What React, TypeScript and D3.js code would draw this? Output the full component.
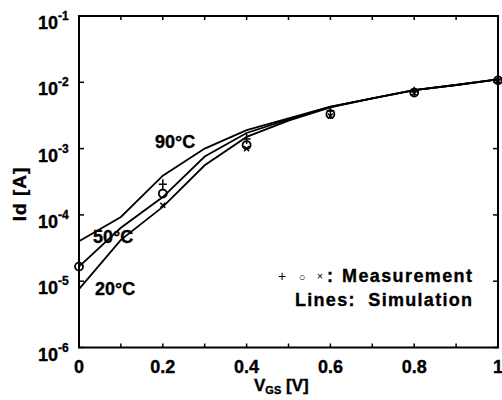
import React from "react";
import * as d3 from "d3";

const V_SIM = [0, 0.1, 0.2, 0.3, 0.4, 0.5, 0.6, 0.7, 0.8, 0.9, 1.0];
const SIM_90 = [4.0e-5, 9.3e-5, 3.9e-4, 1.0e-3, 1.9e-3, 2.85e-3, 4.3e-3, 5.7e-3, 7.6e-3, 9.1e-3, 1.11e-2];
const SIM_50 = [1.66e-5, 6.4e-5, 1.86e-4, 7.6e-4, 1.72e-3, 2.75e-3, 4.25e-3, 5.7e-3, 7.6e-3, 9.1e-3, 1.11e-2];
const SIM_20 = [7.6e-6, 4.2e-5, 1.32e-4, 5.6e-4, 1.5e-3, 2.65e-3, 4.2e-3, 5.7e-3, 7.6e-3, 9.1e-3, 1.11e-2];

const V_MEAS = [0, 0.2, 0.4, 0.6, 0.8, 1.0];
const MEAS_PLUS = [null, 2.9e-4, 1.4e-3, 3.7e-3, 7.2e-3, 1.08e-2];
const MEAS_CIRCLE = [1.66e-5, 2.1e-4, 1.13e-3, 3.3e-3, 7.0e-3, 1.07e-2];
const MEAS_CROSS = [null, 1.4e-4, 1.0e-3, 3.1e-3, 6.9e-3, 1.05e-2];

const X_TICKS = [0, 0.2, 0.4, 0.6, 0.8, 1];
const X_TICK_LABELS = ["0", "0.2", "0.4", "0.6", "0.8", "1"];
const X_MINOR = [0, 0.1, 0.2, 0.3, 0.4, 0.5, 0.6, 0.7, 0.8, 0.9, 1.0];
const Y_TICKS = [1e-6, 1e-5, 1e-4, 1e-3, 1e-2, 1e-1];
const Y_EXP = ["-6", "-5", "-4", "-3", "-2", "-1"];

const FONT = "'Liberation Sans', Arial, Helvetica, sans-serif";

export default function App() {
  const L = 79, R = 498, T = 16, B = 347.5;
  const x = d3.scaleLinear().domain([0, 1]).range([L, R]);
  const y = d3.scaleLog().domain([1e-6, 1e-1]).range([B, T]);
  const line = d3
    .line<[number, number]>()
    .x((d) => x(d[0]))
    .y((d) => y(d[1]))
    .curve(d3.curveLinear);
  const sims = [SIM_90, SIM_50, SIM_20];
  const bold = { fontWeight: "bold" as const, fill: "#000", stroke: "#000", strokeWidth: 0.35 };

  return (
    <svg
      width={502}
      height={400}
      style={{ position: "absolute", left: 0, top: 0, background: "#fff" }}
      fontFamily={FONT}
    >
      {sims.map((s, i) => (
        <path
          key={i}
          d={line(V_SIM.map((v, j) => [v, s[j]] as [number, number])) || ""}
          fill="none"
          stroke="#000"
          strokeWidth={1.8}
        />
      ))}
      {V_MEAS.map((v, i) =>
        MEAS_PLUS[i] == null ? null : (
          <path
            key={"p" + i}
            d={`M${x(v) - 4},${y(MEAS_PLUS[i] as number)}h8M${x(v)},${y(MEAS_PLUS[i] as number) - 5}v10`}
            stroke="#000"
            strokeWidth={1.5}
          />
        )
      )}
      {V_MEAS.map((v, i) => (
        <circle
          key={"c" + i}
          cx={x(v)}
          cy={y(MEAS_CIRCLE[i])}
          r={4}
          fill="none"
          stroke="#000"
          strokeWidth={1.8}
        />
      ))}
      {V_MEAS.map((v, i) =>
        MEAS_CROSS[i] == null ? null : (
          <path
            key={"x" + i}
            d={`M${x(v) - 2.5},${y(MEAS_CROSS[i] as number) - 2.5}l5,5M${x(v) + 2.5},${y(MEAS_CROSS[i] as number) - 2.5}l-5,5`}
            stroke="#000"
            strokeWidth={1.5}
          />
        )
      )}
      <rect x={L} y={T} width={R - L} height={B - T} fill="none" stroke="#000" strokeWidth={2} />
      {X_MINOR.map((v, i) => (
        <g key={"xt" + i}>
          <line x1={x(v)} x2={x(v)} y1={B} y2={B - 4} stroke="#000" strokeWidth={1.5} />
          <line x1={x(v)} x2={x(v)} y1={T} y2={T + 4} stroke="#000" strokeWidth={1.5} />
        </g>
      ))}
      {Y_TICKS.map((t, i) => (
        <g key={"yt" + i}>
          <line x1={L} x2={L + 5} y1={y(t)} y2={y(t)} stroke="#000" strokeWidth={1.5} />
          <line x1={R} x2={R - 5} y1={y(t)} y2={y(t)} stroke="#000" strokeWidth={1.5} />
          <text x={38} y={y(t) + 13} fontSize={18} {...bold}>
            10
            <tspan fontSize={12} dy={-9}>
              {Y_EXP[i]}
            </tspan>
          </text>
        </g>
      ))}
      {X_TICKS.map((v, i) => (
        <text key={"xl" + i} x={x(v)} y={373} fontSize={18} textAnchor="middle" {...bold}>
          {X_TICK_LABELS[i]}
        </text>
      ))}
      <text x={254} y={391} fontSize={17} {...bold}>
        V<tspan fontSize={11} dy={3}>GS</tspan>
        <tspan dy={-3}> [V]</tspan>
      </text>
      <text transform="translate(26,194) rotate(-90)" fontSize={19} textAnchor="middle" letterSpacing={1} {...bold}>
        Id [A]
      </text>
      <text x={155} y={148} fontSize={18} {...bold}>90°C</text>
      <text x={93} y={243} fontSize={18} {...bold}>50°C</text>
      <text x={95} y={295} fontSize={18} {...bold}>20°C</text>
      <text x={282} y={281} fontSize={14} textAnchor="middle" fill="#000">+</text>
      <text x={302} y={281} fontSize={11} textAnchor="middle" fill="#000">○</text>
      <text x={320} y={280} fontSize={11} textAnchor="middle" fill="#000">×</text>
      <text x={327} y={282} fontSize={18} {...bold}>:</text>
      <text x={342} y={282} fontSize={18} textLength={130} lengthAdjust="spacing" {...bold}>
        Measurement
      </text>
      <text x={295} y={306} fontSize={18} textLength={177} lengthAdjust="spacing" xmlSpace="preserve" {...bold}>
        Lines:  Simulation
      </text>
    </svg>
  );
}
